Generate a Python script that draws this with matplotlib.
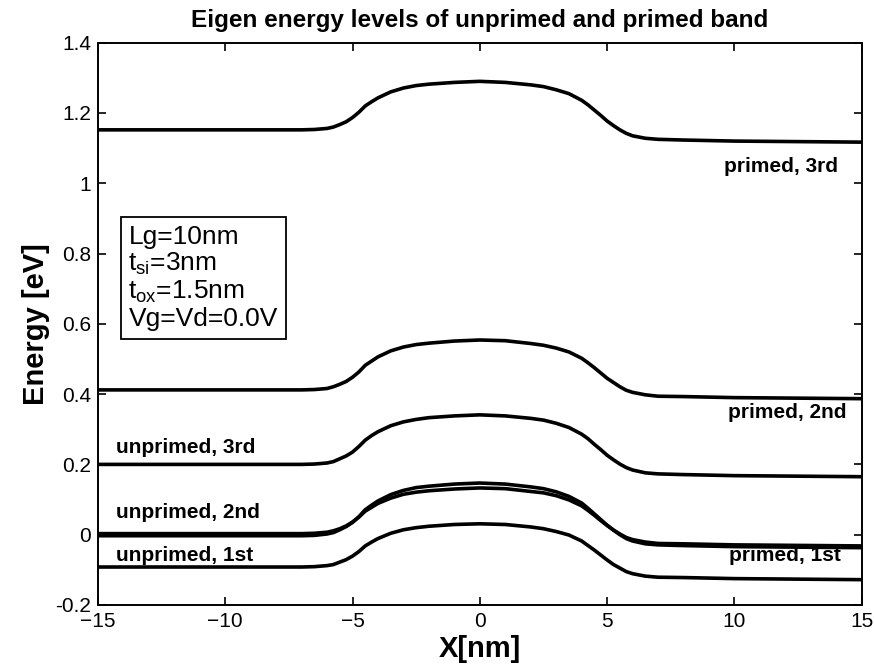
import matplotlib
matplotlib.use("Agg")
import matplotlib.pyplot as plt

plt.rcParams['font.family'] = ['Liberation Sans', 'DejaVu Sans']
plt.rcParams['mathtext.default'] = 'regular'

# position along the channel [nm]
x_nm = [-15, -10, -8, -7, -6.5, -6, -5.75, -5.5, -5.25, -5, -4.75, -4.5, -4.25, -4,
        -3.5, -3, -2.5, -2, -1, 0,
        1, 2, 2.5, 3, 3.5, 4, 4.25, 4.5, 4.75, 5, 5.25, 5.5, 5.75, 6, 6.5, 7, 8, 10, 15]

# eigen energies [eV]
primed_3rd = [1.152, 1.152, 1.152, 1.152, 1.153, 1.156, 1.160, 1.167, 1.175, 1.187,
              1.202, 1.220, 1.232, 1.243, 1.260, 1.271, 1.278, 1.282, 1.287, 1.290,
              1.287, 1.280, 1.275, 1.266, 1.255, 1.236, 1.223, 1.208, 1.193, 1.177,
              1.164, 1.152, 1.142, 1.135, 1.128, 1.125, 1.123, 1.120, 1.117]
primed_2nd = [0.412, 0.412, 0.412, 0.412, 0.413, 0.416, 0.421, 0.428, 0.436, 0.448,
              0.463, 0.482, 0.494, 0.506, 0.523, 0.534, 0.541, 0.545, 0.551, 0.554,
              0.552, 0.544, 0.539, 0.531, 0.520, 0.502, 0.489, 0.475, 0.460, 0.445,
              0.433, 0.421, 0.411, 0.405, 0.398, 0.394, 0.393, 0.390, 0.387]
unprimed_3rd = [0.200, 0.200, 0.200, 0.200, 0.201, 0.204, 0.208, 0.216, 0.224, 0.235,
                0.251, 0.269, 0.282, 0.293, 0.310, 0.321, 0.328, 0.333, 0.338, 0.341,
                0.338, 0.331, 0.326, 0.317, 0.305, 0.286, 0.273, 0.257, 0.242, 0.226,
                0.213, 0.201, 0.191, 0.184, 0.176, 0.173, 0.171, 0.168, 0.165]
unprimed_2nd = [0.003, 0.003, 0.003, 0.003, 0.004, 0.007, 0.011, 0.017, 0.025, 0.036,
                0.050, 0.067, 0.078, 0.089, 0.104, 0.115, 0.121, 0.125, 0.130, 0.133,
                0.131, 0.123, 0.119, 0.111, 0.099, 0.082, 0.069, 0.055, 0.040, 0.026,
                0.013, 0.002, -0.008, -0.014, -0.021, -0.025, -0.026, -0.029, -0.032]
primed_1st = [-0.003, -0.003, -0.003, -0.003, -0.002, 0.002, 0.006, 0.014, 0.023, 0.035,
              0.051, 0.071, 0.084, 0.096, 0.114, 0.126, 0.134, 0.138, 0.144, 0.147,
              0.144, 0.136, 0.131, 0.122, 0.109, 0.090, 0.075, 0.059, 0.043, 0.027,
              0.013, 0.000, -0.011, -0.018, -0.026, -0.029, -0.031, -0.034, -0.037]
unprimed_1st = [-0.092, -0.092, -0.092, -0.092, -0.091, -0.088, -0.085, -0.078, -0.071, -0.061,
                -0.048, -0.032, -0.021, -0.011, 0.004, 0.014, 0.020, 0.024, 0.029, 0.031,
                0.029, 0.022, 0.017, 0.009, -0.001, -0.018, -0.031, -0.044, -0.058, -0.072,
                -0.085, -0.095, -0.105, -0.111, -0.118, -0.121, -0.122, -0.125, -0.128]

levels = [primed_3rd, primed_2nd, unprimed_3rd, unprimed_2nd, primed_1st, unprimed_1st]

# level labels: (text, x, y)
level_labels = [
    ("primed, 3rd", 9.6, 1.047),
    ("primed, 2nd", 9.75, 0.349),
    ("unprimed, 3rd", -14.3, 0.247),
    ("unprimed, 2nd", -14.3, 0.062),
    ("unprimed, 1st", -14.3, -0.058),
    ("primed, 1st", 9.8, -0.058),
]

fig = plt.figure(figsize=(8.74, 6.67), dpi=100)
ax = fig.add_axes([0.112, 0.093, 0.874, 0.843])

for e in levels:
    ax.plot(x_nm, e, color='black', linewidth=2.6, solid_joinstyle='round')

for txt, tx, ty in level_labels:
    ax.text(tx, ty, txt, fontsize=15, fontweight='bold', va='center', ha='left')

info = ("Lg=10nm\n"
        "t$_{si}$=3nm\n"
        "t$_{ox}$=1.5nm\n"
        "Vg=Vd=0.0V")
ax.text(-13.8, 0.731, info, fontsize=19, va='center', ha='left', linespacing=1.1,
        bbox=dict(boxstyle='square,pad=0.3', facecolor='white', edgecolor='black', linewidth=1.3))

ax.set_xlim(-15, 15)
ax.set_ylim(-0.2, 1.4)
ax.set_xticks([-15, -10, -5, 0, 5, 10, 15])
ax.set_yticks([-0.2, 0, 0.2, 0.4, 0.6, 0.8, 1, 1.2, 1.4])
ax.set_yticklabels(['-0.2', '0', '0.2', '0.4', '0.6', '0.8', '1', '1.2', '1.4'])
ax.tick_params(direction='in', length=6, width=1.2, labelsize=15, top=True, right=True, pad=5)
for s in ax.spines.values():
    s.set_linewidth(1.4)

ax.set_title("Eigen energy levels of unprimed and primed band", fontsize=17.5, fontweight='bold', pad=11)
ax.set_xlabel("X[nm]", fontsize=21, fontweight='bold', labelpad=3)
ax.set_ylabel("Energy [eV]", fontsize=21, fontweight='bold', labelpad=4)

fig.savefig("out.png", dpi=100)
